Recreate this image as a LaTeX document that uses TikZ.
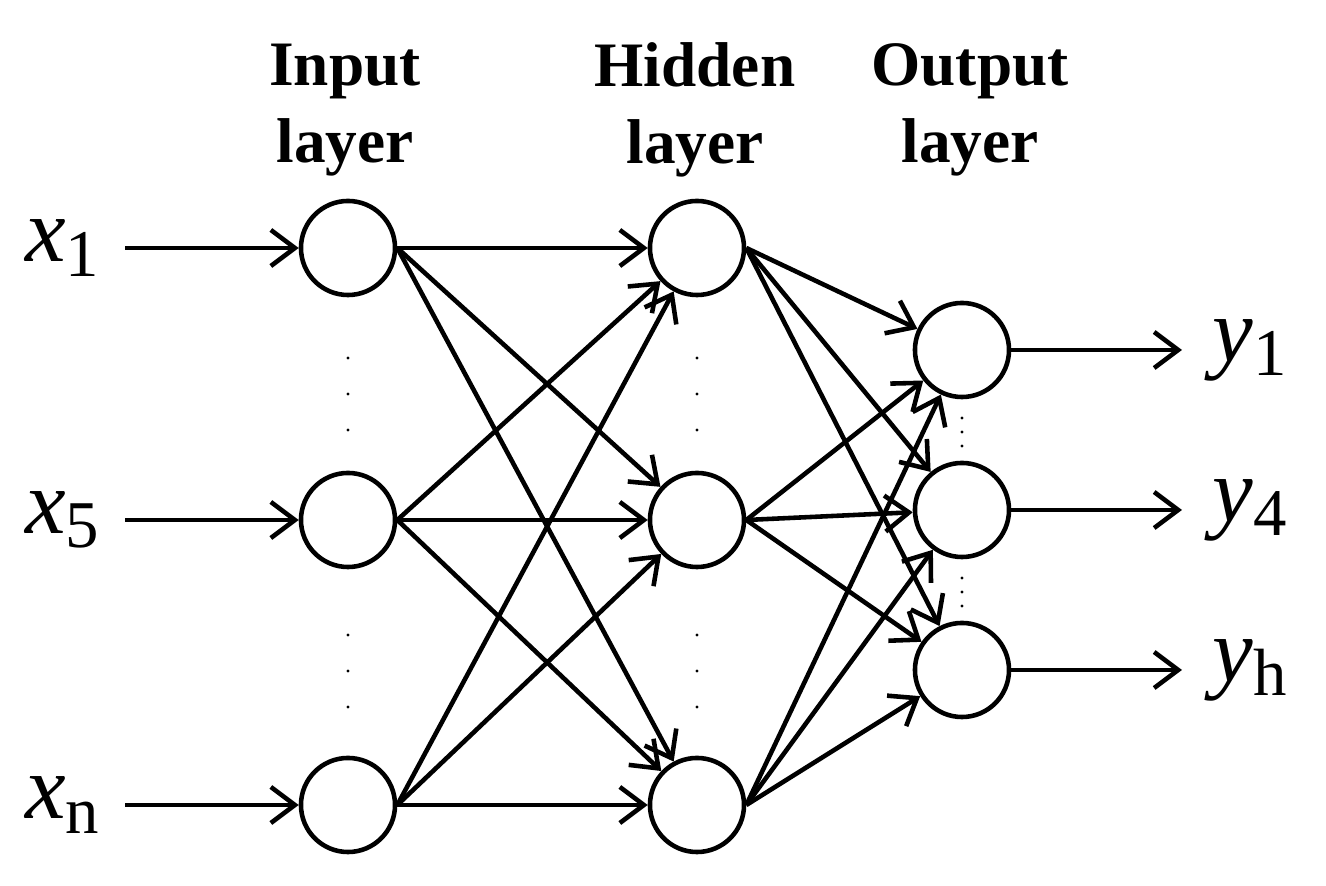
\documentclass[tikz,border=0pt]{standalone}
\usepackage{fontspec}
\setmainfont{Liberation Serif}
\usetikzlibrary{arrows.meta}
\tikzset{
  neuron/.style={draw, circle, line width=1.3pt, minimum size=0.94cm, inner sep=0pt},
  conn/.style={line width=1.3pt, -{Straight Barb[length=2.4mm,width=3.6mm]}},
  head/.style={font=\fontsize{18}{22}\selectfont\bfseries, align=center},
  lbl/.style={font=\fontsize{26}{26}\selectfont}
}
\newcommand{\vdot}[3]{\foreach \k in {0,1,2} \fill (#1,#2+\k*#3) circle (1.6);}
\begin{document}
\begin{tikzpicture}[x=0.01cm, y=-0.01cm]
    \useasboundingbox (0,0) rectangle (1326,886);
    % layers
    \foreach \n/\y in {1/248, 2/520, 3/805} {
        \node[neuron] (i\n) at (348,\y) {};
        \node[neuron] (h\n) at (697,\y) {};
    }
    \foreach \n/\y in {1/350, 2/510, 3/670}
        \node[neuron] (o\n) at (962,\y) {};
    % headers
    \node[head] (hi) at (345,110) {Input\\layer};
    \node[head] (hh) at (695,110) {Hidden\\layer};
    \node[head] (ho) at (970,110) {Output\\layer};
    % inputs and outputs
    \foreach \n/\t in {1/1, 2/5, 3/n} {
        \node[lbl] (x\n) at (62,0 |- i\n) {\textit{x}\raisebox{-0.35ex}{\fontsize{19}{19}\selectfont\t}};
        \coordinate (xs\n) at (125,0 |- i\n);
        \draw[conn] (xs\n) -- (i\n);
    }
    \foreach \n/\t in {1/1, 2/4, 3/h} {
        \node[lbl] (y\n) at (1250,0 |- o\n) {\textit{y}\raisebox{-0.35ex}{\fontsize{19}{19}\selectfont\t}};
        \coordinate (ye\n) at (1182,0 |- o\n);
        \draw[conn] (o\n) -- (ye\n);
    }
    % weights
    \foreach \a in {1,2,3}
        \foreach \b in {1,2,3} {
            \draw[conn] (i\a.east) -- (h\b);
            \draw[conn] (h\a.east) -- (o\b);
        }
    % dots
    \vdot{348}{358}{36}
    \vdot{348}{635}{36}
    \vdot{697}{358}{36}
    \vdot{697}{635}{36}
    \vdot{962}{418}{14}
    \vdot{962}{578}{14}
\end{tikzpicture}
\end{document}
